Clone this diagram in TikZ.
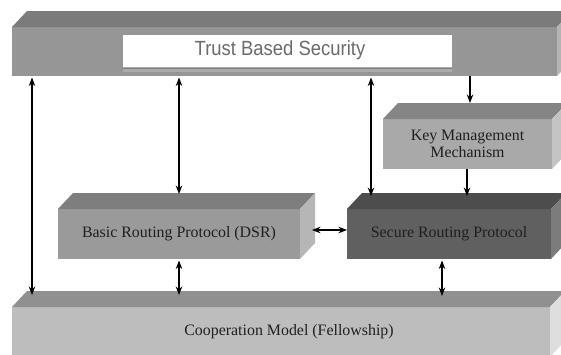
\documentclass[tikz,border=0pt]{standalone}
\usepackage{fontspec}
\setmainfont{Liberation Serif}
\newfontfamily\trustfont[FakeStretch=0.9]{Liberation Sans}
\usetikzlibrary{calc,arrows.meta}

% shades of the solid blocks: front, top and side faces
\definecolor{topF}{HTML}{969696}\definecolor{topT}{HTML}{7B7B7B}\definecolor{topS}{HTML}{B4B4B4}
\definecolor{basF}{HTML}{9A9A9A}\definecolor{basT}{HTML}{7E7E7E}\definecolor{basS}{HTML}{B6B6B6}
\definecolor{keyF}{HTML}{A9A9A9}\definecolor{keyT}{HTML}{858585}\definecolor{keyS}{HTML}{C4C4C4}
\definecolor{secF}{HTML}{606060}\definecolor{secT}{HTML}{4D4D4D}\definecolor{secS}{HTML}{7C7C7C}
\definecolor{botF}{HTML}{BDBDBD}\definecolor{botT}{HTML}{909090}\definecolor{botS}{HTML}{DEDEDE}

% top and side faces of a block whose front face is node #1
\newcommand\solidfaces[3]{%
  \fill[#2] (#1.north west) -- ++(15,-16) -- ($(#1.north east)+(15,-16)$) -- (#1.north east) -- cycle;
  \fill[#3] (#1.north east) -- ++(15,-16) -- ($(#1.south east)+(15,-16)$) -- (#1.south east) -- cycle;
}

\begin{document}
\begin{tikzpicture}[x=1pt,y=-1pt,
  front/.style={inner sep=0pt, outer sep=0pt, draw=none, align=center,
    font=\fontsize{15.9}{17}\selectfont, text=black!88},
  conn/.style={line width=1.1pt, -{Stealth[length=8.5pt,width=6.5pt]}},
  dconn/.style={line width=1.1pt, {Stealth[length=8.5pt,width=6.5pt]}-{Stealth[length=8.5pt,width=6.5pt]}},
]
\useasboundingbox (0,0) rectangle (561,354);
\fill[white] (0,0) rectangle (561,354);

% blocks
\node[front, fill=topF, minimum width=545pt, minimum height=49pt] (tbs) at (284.5,51.5) {};
\solidfaces{tbs}{topT}{topS}
\node[front, fill=keyF, minimum width=169pt, minimum height=50pt] (key) at (467.5,144) {Key Management\\Mechanism};
\solidfaces{key}{keyT}{keyS}
\node[front, fill=basF, minimum width=242pt, minimum height=50pt] (bas) at (179,234) {Basic Routing Protocol (DSR)};
\solidfaces{bas}{basT}{basS}
\node[front, fill=secF, minimum width=204pt, minimum height=50pt] (sec) at (449,234) {Secure Routing Protocol};
\solidfaces{sec}{secT}{secS}
\node[front, fill=botF, minimum width=538pt, minimum height=50pt] (bot) at (281,332) {};
\solidfaces{bot}{botT}{botS}
\node[front] (coop) at (289,332) {Cooperation Model (Fellowship)};

% white title panel in the top block
\node[inner sep=0pt, fill=white, minimum width=329pt, minimum height=32pt] (panel) at (287.5,51) {};
\fill[black!33] (panel.south west) rectangle ($(panel.south east)+(0,5)$);
\draw[black!50, line width=0.6pt] ($(panel.south west)+(0,1)$) -- ($(panel.south east)+(0,1)$);
\node[anchor=base, inner sep=0pt, font=\trustfont\fontsize{20.5}{22}\selectfont, text=black!58] (trust) at (280,55) {Trust Based Security};

% reference abscissas of the connectors
\coordinate (xa) at (32,0);
\coordinate (xc) at (371,0);
\coordinate (xd) at (470,0);
\coordinate (xe) at (442,0);
\coordinate (xf) at (467,0);

% connectors
\draw[dconn] ($(tbs.south -| xa)+(0,1.5)$) -- ($(bot.north -| xa)+(0,-12)$);
\draw[dconn] ($(tbs.south -| bas.north)+(0,1.5)$) -- ($(bas.north)+(0,-15)$);
\draw[dconn] ($(tbs.south -| xc)+(0,1.5)$) -- ($(sec.north -| xc)+(0,-13)$);
\draw[conn] (tbs.south -| xd) -- ($(key.north -| xd)+(0,-16)$);
\draw[conn] (key.south -| xf) -- ($(sec.north -| xf)+(0,-13)$);
\draw[dconn] ($(bas.east)+(12,-4)$) -- ($(sec.west)+(0,-4)$);
\draw[dconn] ($(bas.south)+(0,1.5)$) -- ($(bot.north -| bas.south)+(0,-12)$);
\draw[dconn] ($(sec.south -| xe)+(0,1.5)$) -- ($(bot.north -| xe)+(0,-11)$);
\end{tikzpicture}
\end{document}
